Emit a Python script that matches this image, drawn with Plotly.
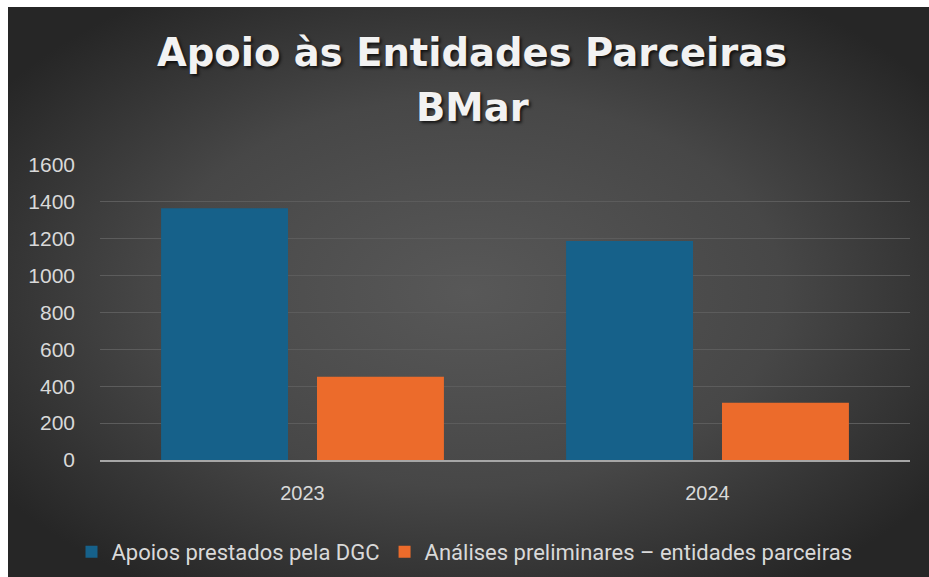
import base64
import plotly.graph_objects as go

categories = ["2023", "2024"]
apoios_dgc = [1366, 1188]
analises_preliminares = [451, 310]
series_names = ["Apoios prestados pela DGC", "Análises preliminares – entidades parceiras"]
title_lines = ["Apoio às Entidades Parceiras", "BMar"]
y_ticks = [0, 200, 400, 600, 800, 1000, 1200, 1400, 1600]

W, H = 929, 577
L, R, T, B = 100, 19, 165, 117
pw, ph = W - L - R, H - T - B
BX, BY = 8, 7  # white frame at top/left in the reference

svg = f'''<svg xmlns="http://www.w3.org/2000/svg" width="{W-BX}" height="{H-BY}" viewBox="0 0 {W-BX} {H-BY}" preserveAspectRatio="none">
<defs><radialGradient id="g" cx="0.5" cy="0.5" r="0.62">
<stop offset="0" stop-color="#585858"/><stop offset="0.55" stop-color="#474747"/><stop offset="1" stop-color="#262626"/>
</radialGradient></defs>
<rect x="0" y="0" width="{W-BX}" height="{H-BY}" fill="url(#g)"/></svg>'''
src = "data:image/svg+xml;base64," + base64.b64encode(svg.encode()).decode()

def px_to_paper_x(px):
    return (px - L) / pw

def px_to_paper_y(py):
    return (H - B - py) / ph

fig = go.Figure()
fig.add_trace(go.Bar(x=categories, y=apoios_dgc, name=series_names[0],
                     marker=dict(color="#16618a", line=dict(width=0))))
fig.add_trace(go.Bar(x=categories, y=analises_preliminares, name=series_names[1],
                     marker=dict(color="#ec6b2b", line=dict(width=0))))

title_font = dict(family="DejaVu Sans", size=38.5, color="#f2f2f2", weight="bold",
                  shadow="2px 2px 3px rgba(0,0,0,0.7)")
annotations = [
    dict(text=title_lines[0], x=px_to_paper_x(472), y=px_to_paper_y(52), xref="paper", yref="paper",
         xanchor="center", yanchor="middle", showarrow=False, font=title_font),
    dict(text=title_lines[1], x=px_to_paper_x(472), y=px_to_paper_y(107), xref="paper", yref="paper",
         xanchor="center", yanchor="middle", showarrow=False, font=title_font),
]

fig.update_layout(
    width=W, height=H,
    margin=dict(l=L, r=R, t=T, b=B),
    paper_bgcolor="#ffffff",
    plot_bgcolor="rgba(0,0,0,0)",
    barmode="group", bargap=0.23, bargroupgap=0.186,
    images=[dict(source=src, xref="paper", yref="paper",
                 x=px_to_paper_x(BX), y=px_to_paper_y(BY),
                 sizex=px_to_paper_x(W) - px_to_paper_x(BX),
                 sizey=px_to_paper_y(BY) - px_to_paper_y(H),
                 xanchor="left", yanchor="top", sizing="stretch", layer="below")],
    annotations=annotations,
    font=dict(family="Liberation Sans", color="#d9d9d9"),
    yaxis=dict(range=[0, 1600], tickvals=y_ticks, showgrid=True, gridcolor="#5c5c5c",
               gridwidth=1.3, zeroline=False, showline=False, ticks="",
               tickfont=dict(size=21, color="#d9d9d9"), ticklabelstandoff=24),
    xaxis=dict(showline=True, linecolor="#a6a6a6", linewidth=2.2, ticks="",
               tickfont=dict(size=20, color="#d9d9d9"), ticklabelstandoff=14),
    legend=dict(orientation="h", x=0.5, xref="container", xanchor="center",
                y=1 - 531 / H, yref="container", yanchor="top",
                font=dict(family="Roboto", size=22, color="#d9d9d9"),
                itemwidth=30, tracegroupgap=0, bgcolor="rgba(0,0,0,0)"),
    showlegend=True,
)

fig.write_html("out.html", config={"displayModeBar": False},
               post_script="document.body.style.margin='0';document.body.style.overflow='hidden';")
